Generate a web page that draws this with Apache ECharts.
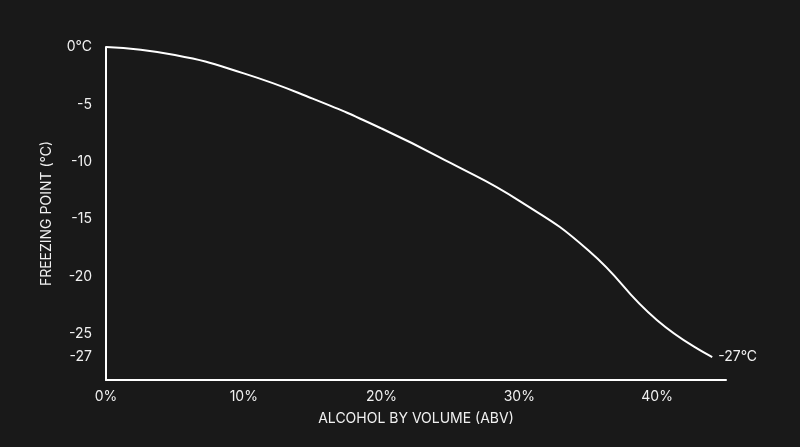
<!DOCTYPE html><html><head><meta charset="utf-8"><script src="https://cdn.jsdelivr.net/npm/echarts@6/dist/echarts.min.js"></script>
<style>html,body{margin:0;background:#191919}#c{width:800px;height:447px}</style></head><body><div id="c"></div><script>
const abv=[0,5,10,15,20,25,30,35,40,44];
const freeze=[0,-0.7,-2.3,-4.5,-7.1,-10.1,-13.4,-17.7,-23.8,-27];
const yTicks=[0,-5,-10,-15,-20,-25,-27];
const c=echarts.init(document.getElementById('c'));
const txt='#f0f0f0';
c.setOption({backgroundColor:'#191919',animation:false,
grid:{left:106,top:47,right:74,bottom:67},
xAxis:{type:'value',min:0,max:45,interval:10,name:'ALCOHOL BY VOLUME (ABV)',nameLocation:'middle',nameGap:32,
nameTextStyle:{color:txt,fontSize:14,fontFamily:'Inter'},
axisLine:{onZero:false,lineStyle:{color:'#fff',width:2}},axisTick:{show:false},splitLine:{show:false},
axisLabel:{color:txt,fontSize:14,fontFamily:'Inter',margin:10,formatter:'{value}%',showMaxLabel:false}},
yAxis:{type:'value',min:-29,max:0,name:'FREEZING POINT (°C)',nameLocation:'middle',nameGap:52,nameRotate:90,
nameTextStyle:{color:txt,fontSize:14,fontFamily:'Inter'},
axisLine:{show:true,onZero:false,lineStyle:{color:'#fff',width:2}},axisTick:{show:false},splitLine:{show:false},
axisLabel:{color:txt,fontSize:14,fontFamily:'Inter',margin:14,customValues:yTicks,formatter:v=>v===0?'0°C':String(v)}},
series:[{type:'line',smooth:true,symbol:'none',data:abv.map((a,i)=>[a,freeze[i]]),lineStyle:{color:'#fff',width:2},
endLabel:{show:true,color:txt,fontSize:14,fontFamily:'Inter',formatter:p=>p.value[1]+'°C',distance:6}}]});
</script></body></html>
